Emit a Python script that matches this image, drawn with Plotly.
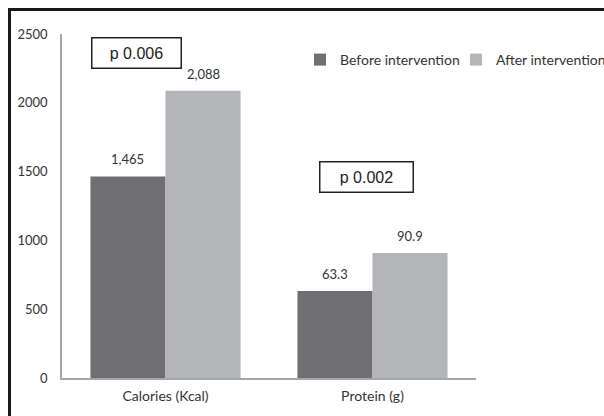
import plotly.graph_objects as go

categories = ["Calories (Kcal)", "Protein (g)"]
before_values = [1465, 633]
after_values = [2088, 909]
before_labels = ["1,465", "63.3"]
after_labels = ["2,088", "90.9"]
series_names = ["Before intervention", "After intervention"]
y_ticks = [0, 500, 1000, 1500, 2000, 2500]
p_labels = ["p 0.006", "p 0.002"]

W, H = 604, 416
L, R, T, B = 62, 128, 34, 38
pw, ph = W - L - R, H - T - B
FONT = "Lato"
TXT = "#333333"
BAR_PX = pw / len(categories) * 0.725 / 2

def px(x):
    return (x - L) / pw

def py(y):
    return (H - B - y) / ph

fig = go.Figure()
fig.add_trace(go.Bar(
    x=categories, y=before_values, name=series_names[0],
    marker=dict(color="#6f6f73", line=dict(width=0)),
    legend="legend",
))
fig.add_trace(go.Bar(
    x=categories, y=after_values, name=series_names[1],
    marker=dict(color="#b4b5b8", line=dict(width=0)),
    legend="legend2",
))

# value labels above bars
for vals, labels, sgn in [(before_values, before_labels, -1), (after_values, after_labels, 1)]:
    for c, v, t in zip(categories, vals, labels):
        fig.add_annotation(
            x=c, y=v, xref="x", yref="y", text=t, showarrow=False,
            xshift=sgn * BAR_PX / 2, yanchor="bottom", yshift=7,
            font=dict(family=FONT, size=13, color=TXT),
        )

fig.update_layout(
    width=W, height=H,
    margin=dict(l=L, r=R, t=T, b=B, pad=0, autoexpand=False),
    paper_bgcolor="white", plot_bgcolor="white",
    barmode="group", bargap=0.275, bargroupgap=0,
    font=dict(family=FONT, size=13, color=TXT),
    showlegend=True,
    legend=dict(orientation="h", x=px(300), y=py(60), xanchor="left", yanchor="middle",
                font=dict(family=FONT, size=14, color=TXT),
                bgcolor="rgba(0,0,0,0)", itemwidth=30),
    legend2=dict(orientation="h", x=px(456), y=py(60), xanchor="left", yanchor="middle",
                 font=dict(family=FONT, size=14, color=TXT),
                 bgcolor="rgba(0,0,0,0)", itemwidth=30),
)
fig.update_xaxes(
    showline=True, linecolor="#a6a6a6", linewidth=1.5, showgrid=False,
    ticks="", ticklabelstandoff=4, tickfont=dict(family=FONT, size=14, color=TXT),
)
fig.update_yaxes(
    range=[0, 2500], tickvals=y_ticks, showline=True, linecolor="#a6a6a6", linewidth=1.5,
    showgrid=False, zeroline=False, ticks="", ticklabelstandoff=10,
    tickfont=dict(family=FONT, size=13, color=TXT),
)

# outer frame (top and left edges)
fig.add_shape(type="line", xref="paper", yref="paper", x0=px(8), x1=px(620), y0=py(9.5), y1=py(9.5),
              line=dict(color="#1a1a1a", width=3))
fig.add_shape(type="line", xref="paper", yref="paper", x0=px(9.5), x1=px(9.5), y0=py(8), y1=py(430),
              line=dict(color="#1a1a1a", width=3))

for lbl, cx, cy, w in [(p_labels[0], 136.5, 53, 76), (p_labels[1], 366.5, 177, 80)]:
    fig.add_annotation(
        text=lbl, xref="paper", yref="paper", x=px(cx), y=py(cy), showarrow=False,
        xanchor="center", yanchor="middle",
        font=dict(family="Liberation Sans", size=16, color="#222222"),
        bordercolor="#222222", borderwidth=1.5, borderpad=6, width=w, height=17, bgcolor="white",
    )

fig.write_html("out.html", config={"displayModeBar": False},
               post_script="document.body.style.margin='0';")
